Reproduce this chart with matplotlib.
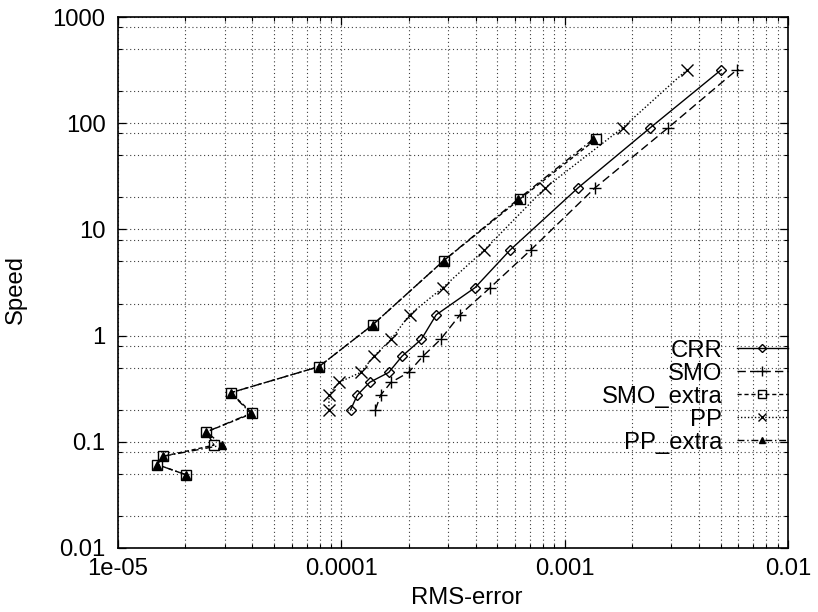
import matplotlib
matplotlib.use("Agg")
import matplotlib.pyplot as plt
from matplotlib.ticker import FixedLocator, FixedFormatter, NullFormatter

plt.rcParams['font.family'] = ['Liberation Sans', 'DejaVu Sans']

# ---- data ----
speed_main = [0.2, 0.276, 0.363, 0.45, 0.64, 0.92, 1.57, 2.83, 6.4, 24.7, 90.8, 317]
crr_err = [1.10e-4, 1.18e-4, 1.34e-4, 1.63e-4, 1.87e-4, 2.28e-4, 2.66e-4, 3.97e-4, 5.7e-4, 1.15e-3, 2.42e-3, 5.01e-3]
smo_err = [1.42e-4, 1.50e-4, 1.67e-4, 2.00e-4, 2.32e-4, 2.78e-4, 3.40e-4, 4.64e-4, 7.05e-4, 1.37e-3, 2.91e-3, 5.89e-3]
pp_err = [8.8e-5, 8.8e-5, 9.75e-5, 1.22e-4, 1.40e-4, 1.67e-4, 2.02e-4, 2.85e-4, 4.37e-4, 8.19e-4, 1.82e-3, 3.52e-3]

speed_extra = [0.049, 0.061, 0.073, 0.093, 0.124, 0.185, 0.29, 0.51, 1.26, 5.07, 19.3, 70.5]
smo_extra_err = [2.01e-5, 1.50e-5, 1.59e-5, 2.69e-5, 2.49e-5, 4.0e-5, 3.2e-5, 7.94e-5, 1.38e-4, 2.87e-4, 6.3e-4, 1.38e-3]
pp_extra_err = [2.01e-5, 1.50e-5, 1.59e-5, 2.93e-5, 2.49e-5, 3.93e-5, 3.2e-5, 7.94e-5, 1.38e-4, 2.87e-4, 6.2e-4, 1.34e-3]

series_names = ["CRR", "SMO", "SMO_extra", "PP", "PP_extra"]

x_ticks = [1e-5, 1e-4, 1e-3, 1e-2]
x_tick_labels = ["1e-05", "0.0001", "0.001", "0.01"]
y_ticks = [0.01, 0.1, 1, 10, 100, 1000]
y_tick_labels = ["0.01", "0.1", "1", "10", "100", "1000"]
x_label = "RMS-error"
y_label = "Speed"

FS = 17.2

# ---- figure ----
fig = plt.figure(figsize=(8.18, 6.12), dpi=100)
ax = fig.add_axes([118/818, 1-548/612, (788-118)/818, (548-17)/612])
ax.set_xscale('log')
ax.set_yscale('log')
ax.set_xlim(1e-5, 1e-2)
ax.set_ylim(0.01, 1000)

k = 'black'
ax.plot(crr_err, speed_main, color=k, lw=1.0, ls='-', marker='D', ms=5, mfc='none', mew=1.0, label=series_names[0])
ax.plot(smo_err, speed_main, color=k, lw=1.0, ls=(0, (6, 3)), marker='+', ms=9, mew=1.0, label=series_names[1])
ax.plot(smo_extra_err, speed_extra, color=k, lw=1.0, ls=(0, (3, 2)), marker='s', ms=7, mfc='none', mew=1.0, label=series_names[2])
ax.plot(pp_err, speed_main, color=k, lw=1.0, ls=(0, (1, 1.5)), marker='x', ms=8, mew=1.0, label=series_names[3])
ax.plot(pp_extra_err, speed_extra, color=k, lw=1.0, ls=(0, (5, 2, 1, 2)), marker='^', ms=6, mfc=k, mew=1.0, label=series_names[4])

# ticks
minor_x = [m * 10.0**e for e in (-5, -4, -3) for m in range(2, 10)]
minor_y = [m * 10.0**e for e in (-2, -1, 0, 1, 2) for m in (2, 5, 8)]
ax.xaxis.set_major_locator(FixedLocator(x_ticks))
ax.xaxis.set_major_formatter(FixedFormatter(x_tick_labels))
ax.xaxis.set_minor_locator(FixedLocator(minor_x))
ax.xaxis.set_minor_formatter(NullFormatter())
ax.yaxis.set_major_locator(FixedLocator(y_ticks))
ax.yaxis.set_major_formatter(FixedFormatter(y_tick_labels))
ax.yaxis.set_minor_locator(FixedLocator(minor_y))
ax.yaxis.set_minor_formatter(NullFormatter())

ax.tick_params(which='both', direction='in', top=True, right=True, colors='black', labelsize=FS)
ax.tick_params(which='major', length=6, width=0.9)
ax.tick_params(axis='y', which='major', pad=9)
ax.tick_params(axis='x', which='major', pad=7)
ax.tick_params(which='minor', length=3, width=0.8)

ax.grid(True, which='both', color='0.25', ls=(0, (1, 2.5)), lw=0.8)
ax.set_axisbelow(True)

for s in ax.spines.values():
    s.set_linewidth(1.2)
    s.set_color('black')

ax.set_xlabel(x_label, fontsize=FS, va='center', ha='center')
ax.xaxis.set_label_coords((467 - 118) / 670, (548 - 598) / 531)
ax.set_ylabel(y_label, fontsize=FS, va='center', ha='center')
ax.yaxis.set_label_coords((16 - 118) / 670, (548 - 290) / 531)

leg = ax.legend(loc='upper right', bbox_to_anchor=(1.0, 0.392), frameon=False,
                markerfirst=False, numpoints=1, fontsize=FS, handlelength=2.15,
                handletextpad=0.6, labelspacing=0.04, borderaxespad=0.0, borderpad=0.0)
for h in leg.legend_handles:
    h.set_markersize(h.get_markersize() * 0.75)

fig.savefig('out.png', dpi=100)
